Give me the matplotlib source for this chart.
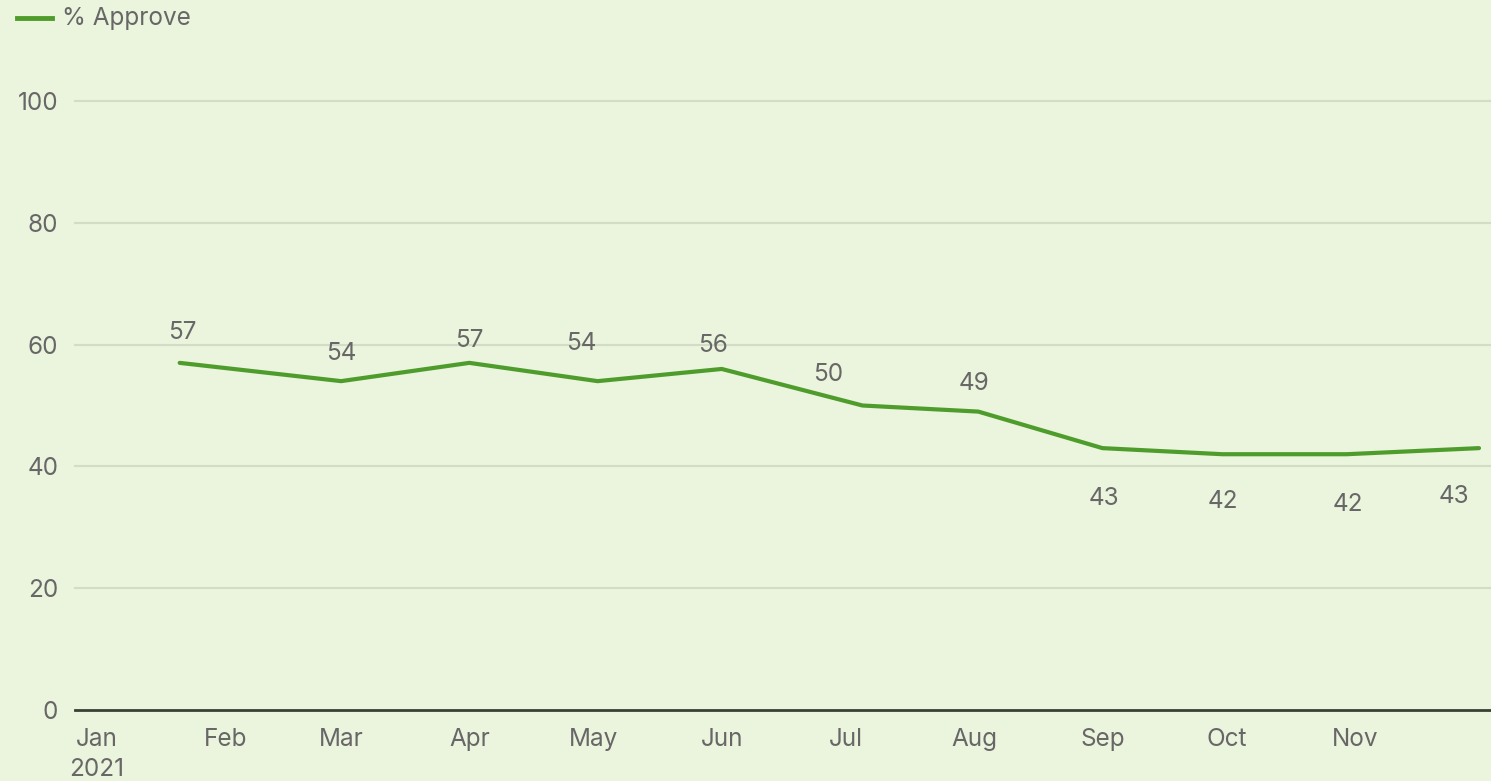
import matplotlib
matplotlib.use("Agg")
import matplotlib.pyplot as plt
import matplotlib.dates as mdates
import numpy as np
import datetime as dt

plt.rcParams['font.family'] = ['Inter', 'DejaVu Sans']

# Data
dates = ["2021-01-21", "2021-03-01", "2021-04-01", "2021-05-02", "2021-06-01",
         "2021-07-05", "2021-08-02", "2021-09-01", "2021-09-30", "2021-10-30",
         "2021-12-01"]
approve = [57, 54, 57, 54, 56, 50, 49, 43, 42, 42, 43]
series_name = "% Approve"
y_ticks = [0, 20, 40, 60, 80, 100]
month_ticks = ["2021-01-01", "2021-02-01", "2021-03-01", "2021-04-01", "2021-05-01",
               "2021-06-01", "2021-07-01", "2021-08-01", "2021-09-01", "2021-10-01",
               "2021-11-01"]
month_labels = ["Jan\n2021", "Feb", "Mar", "Apr", "May", "Jun", "Jul", "Aug",
                "Sep", "Oct", "Nov"]
# label offsets (points) relative to each data point
label_dx = [2, 0, 0, -12, -6, -25, -3, 1, 0, 1, -18]
label_dy = [22, 20, 16, 27, 17, 22, 20, -36, -34, -36, -35]

bg = "#EBF4DC"
green = "#4E9C2C"
text_c = "#676767"
grid_c = "#D3DCC6"
fs = 17.5

W, H = 1491, 781
fig = plt.figure(figsize=(W / 100, H / 100), dpi=100, facecolor=bg)
ax = fig.add_axes([75 / W, 1 - 710 / H, (W - 75) / W, (710 - 101) / H])
ax.set_facecolor(bg)

x = [dt.datetime.strptime(d, "%Y-%m-%d") for d in dates]
xnum = mdates.date2num(x)
ax.plot(xnum, approve, color=green, lw=3.0, solid_capstyle='round', zorder=3)

for xi, yi, v, dx, dy in zip(xnum, approve, approve, label_dx, label_dy):
    ax.annotate(str(v), (xi, yi), xytext=(dx, dy), textcoords='offset points',
                ha='center', va='center', fontsize=fs, color=text_c)

x0 = mdates.date2num(dt.datetime(2021, 1, 1)) - 5.3
x1 = mdates.date2num(dt.datetime(2021, 1, 1)) + 336.9
ax.set_xlim(x0, x1)
ax.set_ylim(0, 100)

ax.set_yticks(y_ticks)
ax.set_yticklabels([str(t) for t in y_ticks])
mt = mdates.date2num([dt.datetime.strptime(d, "%Y-%m-%d") for d in month_ticks])
ax.set_xticks(mt)
ax.set_xticklabels(month_labels)
ax.tick_params(axis='both', length=0, labelsize=fs, labelcolor=text_c)
ax.tick_params(axis='x', pad=13)
ax.tick_params(axis='y', pad=12)
for lab in ax.get_xticklabels():
    lab.set_linespacing(1.4)
    lab.set_va('top')

for t in y_ticks[1:]:
    ax.axhline(t, color=grid_c, lw=1.5, zorder=1, clip_on=False)
ax.axhline(0, color="#3A3F36", lw=2, zorder=2, clip_on=False)
for s in ax.spines.values():
    s.set_visible(False)

# legend
fig.lines.append(plt.Line2D([17 / W, 52 / W], [1 - 18 / H, 1 - 18 / H],
                            color=green, lw=3.5, transform=fig.transFigure))
fig.text(62 / W, 1 - 18 / H, series_name, fontsize=fs, color=text_c,
         ha='left', va='center')

fig.savefig("out.png", dpi=100, facecolor=bg)
